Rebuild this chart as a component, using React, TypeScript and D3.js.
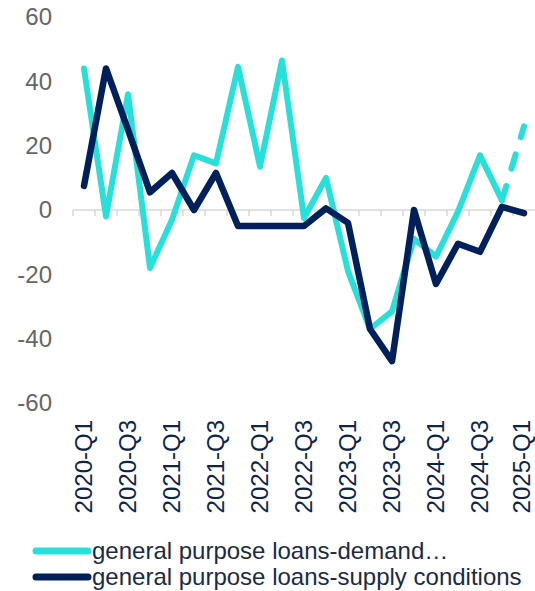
import React, { useEffect, useRef } from "react";
import * as d3 from "d3";

// quarters 2020-Q1 .. 2025-Q1
const quarters = [
  "2020-Q1", "2020-Q2", "2020-Q3", "2020-Q4",
  "2021-Q1", "2021-Q2", "2021-Q3", "2021-Q4",
  "2022-Q1", "2022-Q2", "2022-Q3", "2022-Q4",
  "2023-Q1", "2023-Q2", "2023-Q3", "2023-Q4",
  "2024-Q1", "2024-Q2", "2024-Q3", "2024-Q4",
  "2025-Q1",
];

const demand = [
  44, -2, 36, -18, -3, 17, 14.5, 44.5, 13.5, 46.5, -2.5,
  10, -19, -37, -31.5, -9, -14.5, -0.5, 17, 3, 26,
];
const supply = [
  7.5, 44, 25, 5.5, 11.5, 0, 11.5, -5, -5, -5, -5,
  0.5, -4, -37, -47, 0, -23, -10.5, -13, 1, -1,
];

const yTicks = [-60, -40, -20, 0, 20, 40, 60];
const seriesNames = [
  "general purpose loans-demand\u2026",
  "general purpose loans-supply conditions",
];
const colors = ["#27E0DA", "#00205C"];

const W = 535;
const H = 591;

export default function App() {
  const ref = useRef(null);

  useEffect(() => {
    const svg = d3.select(ref.current);
    svg.selectAll("*").remove();

    const font = "'Liberation Sans', Arial, sans-serif";
    var x = d3.scaleBand().domain(quarters).range([73, 535]);
    var y = d3.scaleLinear().domain([-60, 60]).range([403, 17]);
    const cx = (i) => x(quarters[i]) + x.bandwidth() / 2;

    // y tick labels
    svg
      .append("g")
      .selectAll("text")
      .data(yTicks)
      .join("text")
      .attr("x", 52)
      .attr("y", (d) => y(d))
      .attr("dy", "0.35em")
      .attr("text-anchor", "end")
      .attr("font-family", font)
      .attr("font-size", 24)
      .attr("fill", "#666666")
      .text((d) => d);

    // zero axis with ticks
    const axis = svg.append("g");
    axis
      .append("line")
      .attr("x1", 73)
      .attr("x2", 535)
      .attr("y1", y(0))
      .attr("y2", y(0))
      .attr("stroke", "#d9d9d9")
      .attr("stroke-width", 1.5);
    axis
      .selectAll("line.tick")
      .data(quarters)
      .join("line")
      .attr("class", "tick")
      .attr("x1", (d) => x(d))
      .attr("x2", (d) => x(d))
      .attr("y1", y(0))
      .attr("y2", y(0) + 6)
      .attr("stroke", "#d9d9d9")
      .attr("stroke-width", 1.5);

    // x labels, every second quarter (last one nudged in from the edge)
    svg
      .append("g")
      .selectAll("text")
      .data(quarters.filter((d, i) => i % 2 === 0))
      .join("text")
      .attr(
        "transform",
        (d) => "translate(" + Math.min(x(d) + x.bandwidth() / 2, 522) + ",420) rotate(-90)"
      )
      .attr("dy", "0.35em")
      .attr("text-anchor", "end")
      .attr("font-family", font)
      .attr("font-size", 24)
      .attr("fill", "#0D2648")
      .text((d) => d);

    var line = d3
      .line()
      .x((d) => cx(d.i))
      .y((d) => y(d.v));

    const demandPts = demand.map((v, i) => ({ i: i, v: v }));
    const supplyPts = supply.map((v, i) => ({ i: i, v: v }));
    const n = demandPts.length;

    // demand: solid then dashed last segment
    svg
      .append("path")
      .datum(demandPts.slice(0, n - 1))
      .attr("d", line)
      .attr("fill", "none")
      .attr("stroke", colors[0])
      .attr("stroke-width", 6)
      .attr("stroke-linejoin", "round")
      .attr("stroke-linecap", "round");
    svg
      .append("path")
      .datum(demandPts.slice(n - 2))
      .attr("d", line)
      .attr("fill", "none")
      .attr("stroke", colors[0])
      .attr("stroke-width", 6)
      .attr("stroke-dasharray", "15 18")
      .attr("stroke-linecap", "round");

    svg
      .append("path")
      .datum(supplyPts)
      .attr("d", line)
      .attr("fill", "none")
      .attr("stroke", colors[1])
      .attr("stroke-width", 6.5)
      .attr("stroke-linejoin", "round")
      .attr("stroke-linecap", "round");

    // legend
    const legend = svg.append("g");
    seriesNames.forEach((name, k) => {
      const ly = 551 + k * 26;
      legend
        .append("line")
        .attr("x1", 36)
        .attr("x2", 88)
        .attr("y1", ly)
        .attr("y2", ly)
        .attr("stroke", colors[k])
        .attr("stroke-width", 7)
        .attr("stroke-linecap", "round");
      legend
        .append("text")
        .attr("x", 92)
        .attr("y", ly)
        .attr("dy", "0.35em")
        .attr("font-family", font)
        .attr("font-size", 24)
        .attr("fill", "#1B2A47")
        .text(name);
    });
  }, []);

  return (
    <svg
      ref={ref}
      width={W}
      height={H}
      style={{ position: "absolute", left: 0, top: 0, background: "#fff" }}
    />
  );
}
